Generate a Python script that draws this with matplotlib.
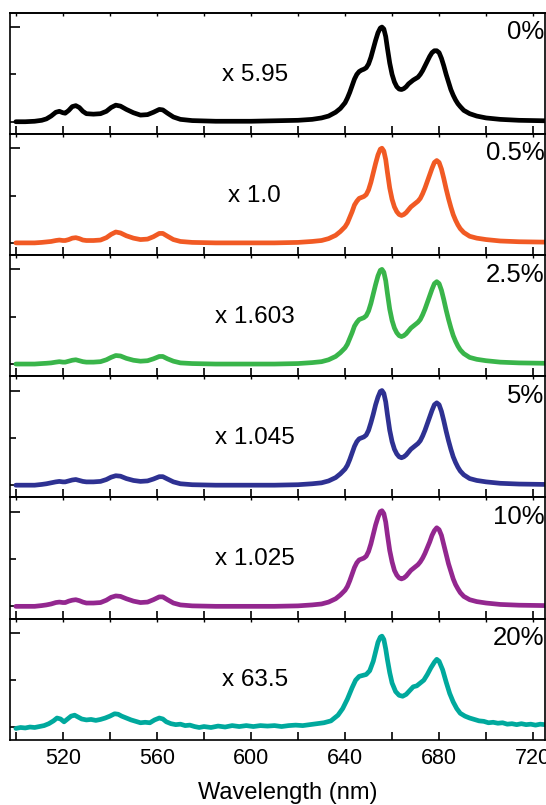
# spectra stacked panels, shared wavelength axis
import matplotlib.pyplot as plt
from matplotlib.ticker import FixedLocator

plt.rcParams['font.family'] = ['Liberation Sans', 'DejaVu Sans']

# wavelength grid (nm) used for the smooth spectra
wl = [500, 504, 508, 511, 513, 515, 517, 518.5, 520, 521,
      522.5, 524, 525.5, 527, 528.5, 530, 533, 536, 538.5, 540.5,
      542.5, 544.5, 547, 550, 553, 556, 558.5, 561, 562.5, 564.5,
      567, 570, 575, 585, 600, 610, 620, 626, 630, 633,
      636, 638, 640, 641, 642, 643, 644, 645, 646, 647,
      648, 649, 650, 651, 652, 653, 654, 655, 655.7, 656.5,
      657.3, 658, 659, 660, 661, 662, 663, 664, 665, 666,
      667, 668, 669, 670, 671, 672, 673, 674, 675, 676,
      677, 678, 679, 680, 681, 682, 683, 684, 685, 686,
      687, 688, 689, 690.5, 693, 696, 700, 706, 714, 725]

s_0 = [0.0, 0.0, 0.005, 0.015, 0.03, 0.06, 0.10, 0.11, 0.095, 0.09,
       0.12, 0.16, 0.17, 0.15, 0.11, 0.085, 0.08, 0.085, 0.11, 0.15,
       0.175, 0.165, 0.13, 0.095, 0.07, 0.075, 0.10, 0.13, 0.125, 0.09,
       0.05, 0.025, 0.012, 0.005, 0.005, 0.01, 0.015, 0.025, 0.04, 0.06,
       0.10, 0.14, 0.20, 0.25, 0.31, 0.38, 0.45, 0.50, 0.53, 0.545,
       0.555, 0.57, 0.61, 0.68, 0.77, 0.86, 0.94, 0.99, 1.0, 0.98,
       0.90, 0.78, 0.62, 0.50, 0.42, 0.37, 0.345, 0.34, 0.35, 0.37,
       0.40, 0.42, 0.44, 0.455, 0.47, 0.50, 0.54, 0.59, 0.64, 0.69,
       0.73, 0.75, 0.75, 0.73, 0.67, 0.59, 0.50, 0.42, 0.34, 0.28,
       0.23, 0.19, 0.16, 0.12, 0.085, 0.06, 0.04, 0.025, 0.015, 0.01]

s_05 = [0.0, 0.0, 0.0, 0.005, 0.01, 0.015, 0.025, 0.03, 0.025, 0.025,
        0.035, 0.05, 0.055, 0.045, 0.03, 0.025, 0.025, 0.03, 0.055, 0.09,
        0.115, 0.105, 0.075, 0.05, 0.035, 0.04, 0.065, 0.10, 0.10, 0.07,
        0.035, 0.015, 0.005, 0.0, 0.0, 0.0, 0.005, 0.015, 0.025, 0.045,
        0.08, 0.12, 0.17, 0.21, 0.27, 0.33, 0.40, 0.44, 0.47, 0.48,
        0.49, 0.51, 0.56, 0.64, 0.74, 0.84, 0.93, 0.99, 1.0, 0.97,
        0.88, 0.75, 0.58, 0.46, 0.38, 0.33, 0.30, 0.29, 0.30, 0.32,
        0.35, 0.38, 0.40, 0.42, 0.44, 0.47, 0.52, 0.58, 0.65, 0.72,
        0.79, 0.85, 0.87, 0.85, 0.78, 0.68, 0.57, 0.47, 0.38, 0.30,
        0.24, 0.19, 0.15, 0.11, 0.07, 0.05, 0.035, 0.02, 0.012, 0.008]

s_25 = [0.0, 0.0, 0.0, 0.005, 0.008, 0.012, 0.02, 0.025, 0.02, 0.02,
        0.03, 0.04, 0.045, 0.035, 0.025, 0.02, 0.02, 0.025, 0.045, 0.07,
        0.09, 0.085, 0.06, 0.04, 0.03, 0.035, 0.055, 0.08, 0.08, 0.055,
        0.03, 0.012, 0.005, 0.0, 0.0, 0.0, 0.005, 0.015, 0.025, 0.045,
        0.08, 0.12, 0.17, 0.21, 0.27, 0.33, 0.40, 0.44, 0.47, 0.48,
        0.49, 0.51, 0.56, 0.64, 0.74, 0.84, 0.93, 0.99, 1.0, 0.97,
        0.88, 0.75, 0.58, 0.46, 0.38, 0.33, 0.30, 0.29, 0.30, 0.32,
        0.35, 0.38, 0.40, 0.42, 0.44, 0.47, 0.52, 0.58, 0.65, 0.72,
        0.79, 0.85, 0.87, 0.85, 0.78, 0.68, 0.57, 0.47, 0.38, 0.30,
        0.24, 0.19, 0.15, 0.11, 0.07, 0.05, 0.035, 0.02, 0.012, 0.008]

s_5 = [0.0, 0.0, 0.0, 0.008, 0.015, 0.025, 0.035, 0.04, 0.035, 0.035,
       0.045, 0.055, 0.06, 0.05, 0.04, 0.035, 0.035, 0.04, 0.06, 0.085,
       0.10, 0.095, 0.07, 0.05, 0.04, 0.045, 0.065, 0.09, 0.09, 0.065,
       0.035, 0.015, 0.005, 0.0, 0.0, 0.0, 0.005, 0.015, 0.025, 0.045,
       0.08, 0.12, 0.17, 0.21, 0.27, 0.34, 0.41, 0.46, 0.49, 0.50,
       0.51, 0.53, 0.58, 0.66, 0.75, 0.85, 0.93, 0.99, 1.0, 0.97,
       0.88, 0.75, 0.58, 0.46, 0.38, 0.33, 0.30, 0.29, 0.30, 0.32,
       0.35, 0.38, 0.40, 0.42, 0.44, 0.47, 0.52, 0.58, 0.65, 0.72,
       0.79, 0.85, 0.87, 0.85, 0.78, 0.68, 0.57, 0.47, 0.38, 0.30,
       0.24, 0.19, 0.15, 0.11, 0.07, 0.05, 0.035, 0.02, 0.012, 0.008]

s_10 = [0.0, 0.0, 0.0, 0.008, 0.015, 0.025, 0.04, 0.045, 0.04, 0.04,
        0.055, 0.065, 0.07, 0.06, 0.045, 0.035, 0.035, 0.04, 0.065, 0.095,
        0.11, 0.105, 0.08, 0.055, 0.04, 0.045, 0.07, 0.10, 0.10, 0.07,
        0.035, 0.015, 0.005, 0.0, 0.0, 0.0, 0.005, 0.015, 0.025, 0.045,
        0.08, 0.12, 0.17, 0.21, 0.27, 0.34, 0.41, 0.46, 0.49, 0.50,
        0.51, 0.53, 0.58, 0.66, 0.76, 0.86, 0.94, 1.0, 1.01, 0.98,
        0.89, 0.76, 0.59, 0.47, 0.38, 0.33, 0.30, 0.29, 0.30, 0.32,
        0.35, 0.38, 0.40, 0.42, 0.44, 0.47, 0.51, 0.56, 0.62, 0.68,
        0.75, 0.80, 0.83, 0.81, 0.75, 0.65, 0.55, 0.45, 0.37, 0.29,
        0.23, 0.185, 0.145, 0.105, 0.07, 0.05, 0.035, 0.02, 0.012, 0.008]

# 20 % sample is noisy, read on a finer grid
wl_20 = [500, 502, 504, 506, 508, 510, 512, 514, 516, 517.5, 519, 520.5, 522, 523.5, 525, 526.5,
         528, 530, 532, 534, 536, 538, 540, 542, 543.5, 545, 547, 549, 551, 553, 555, 557, 559,
         561, 562.5, 564, 566, 568, 570, 572, 574, 576, 578, 580, 583, 586, 589, 592, 595, 598,
         601, 604, 607, 610, 613, 616, 619, 622, 625, 628, 631, 634, 637, 639, 641, 643, 644.5,
         646, 647.5, 649, 650.5, 652, 653, 654, 655, 655.7, 656.5, 657.3, 658, 659, 660, 661.5,
         663, 664.5, 666, 667.5, 669, 670.5, 672, 673.5, 675, 676.5, 678, 679, 680, 681.5, 683,
         684.5, 686, 687.5, 689, 691, 693, 695, 697, 699, 701, 703, 705, 707, 709, 711, 713, 715,
         717, 719, 721, 723, 725]
s_20 = [-0.01, 0.0, -0.005, 0.005, 0.0, 0.01, 0.02, 0.04, 0.07, 0.10, 0.09, 0.06, 0.09, 0.12, 0.13, 0.11,
        0.09, 0.08, 0.085, 0.075, 0.085, 0.10, 0.12, 0.145, 0.14, 0.12, 0.10, 0.08, 0.065, 0.05, 0.055, 0.05, 0.08,
        0.10, 0.09, 0.06, 0.04, 0.03, 0.035, 0.02, 0.025, 0.01, 0.0, 0.01, 0.0, 0.015, 0.005, 0.02, 0.01, 0.02,
        0.01, 0.02, 0.015, 0.02, 0.01, 0.02, 0.025, 0.02, 0.03, 0.04, 0.05, 0.07, 0.13, 0.20, 0.30, 0.42, 0.50,
        0.54, 0.55, 0.56, 0.60, 0.70, 0.80, 0.90, 0.955, 0.965, 0.93, 0.83, 0.72, 0.58, 0.47, 0.38,
        0.34, 0.33, 0.35, 0.39, 0.43, 0.44, 0.47, 0.50, 0.56, 0.63, 0.69, 0.72, 0.70, 0.61, 0.48,
        0.36, 0.27, 0.20, 0.15, 0.12, 0.10, 0.085, 0.07, 0.065, 0.05, 0.055, 0.045, 0.05, 0.035, 0.04, 0.03, 0.04,
        0.03, 0.035, 0.025, 0.035, 0.03]

x_list = [wl, wl, wl, wl, wl, wl_20]
y_list = [s_0, s_05, s_25, s_5, s_10, s_20]
conc = ['0%', '0.5%', '2.5%', '5%', '10%', '20%']
factor = ['x 5.95', 'x 1.0', 'x 1.603', 'x 1.045', 'x 1.025', 'x 63.5']
colors = ['#000000', '#F15A24', '#39B54A', '#2E3192', '#93278F', '#00A99D']

fig, axes = plt.subplots(6, 1, figsize=(5.46, 8.05), dpi=100, sharex=True)
fig.subplots_adjust(left=0.0174, right=0.998, top=0.984, bottom=0.081, hspace=0)

for i, ax in enumerate(axes):
    ax.plot(x_list[i], y_list[i], color=colors[i], lw=3.4, solid_joinstyle='round',
            solid_capstyle='round')
    ax.set_xlim(497.3, 725)
    ax.set_ylim(-0.13, 1.15)
    ax.set_yticks([1.0])
    ax.yaxis.set_minor_locator(FixedLocator([0, 0.5]))
    ax.tick_params(axis='y', which='major', direction='in', length=7.5, width=1.2, labelleft=False)
    ax.tick_params(axis='y', which='minor', direction='in', length=4.5, width=1.2)
    ax.set_xticks([520, 560, 600, 640, 680, 720])
    ax.xaxis.set_minor_locator(FixedLocator([500, 540, 580, 620, 660, 700]))
    ax.tick_params(axis='x', which='both', direction='in', length=6, width=1.2,
                   labelsize=15.5, pad=6)
    # short ticks on top edge
    sec = ax.secondary_xaxis('top')
    sec.set_xticks([500, 520, 540, 560, 580, 600, 620, 640, 660, 680, 700, 720])
    sec.tick_params(direction='in', length=2.5, width=1.0, labeltop=False)
    sec.spines['top'].set_linewidth(1.2)
    for sp in ax.spines.values():
        sp.set_linewidth(1.2)
    ax.text(0.458, 0.49, factor[i], transform=ax.transAxes, ha='center', va='center', fontsize=17.5)
    ax.text(0.999, 0.84, conc[i], transform=ax.transAxes, ha='right', va='center', fontsize=18.5)

fig.text(0.527, 0.029, 'Wavelength (nm)', ha='center', va='top', fontsize=17)

fig.savefig('out.png', dpi=100)
